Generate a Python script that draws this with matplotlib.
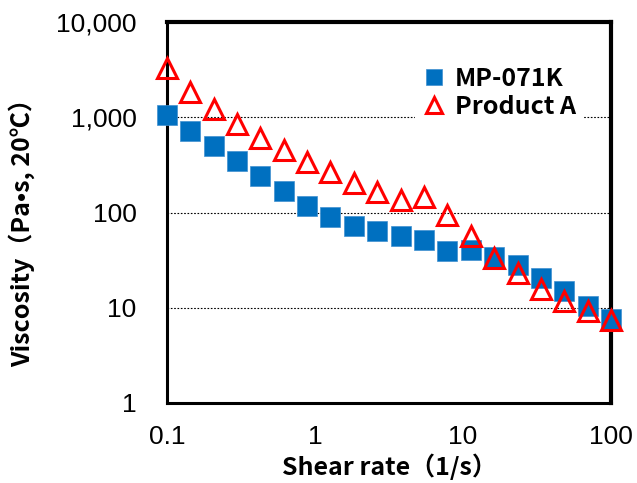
import matplotlib
matplotlib.use("Agg")
from matplotlib import pyplot as plt

# shear rate (1/s), 20 points per run
shear_rate = [0.1, 0.144, 0.207, 0.298, 0.428, 0.616, 0.886, 1.27, 1.83, 2.64,
              3.79, 5.46, 7.85, 11.3, 16.2, 23.4, 33.6, 48.3, 69.5, 100]

mp071k = [1065, 724, 500, 346, 241, 169, 117, 88.7, 72, 63.8,
          57, 51.4, 39, 40, 34.1, 28.3, 20.5, 14.9, 10.5, 7.6]
product_a = [3290, 1850, 1230, 855, 607, 449, 336, 264, 206, 165,
             136, 144, 94.6, 56.7, 33, 22.9, 15.6, 11.8, 9.3, 7.4]

y_ticks = [1, 10, 100, 1000, 10000]
y_labels = ["1", "10", "100", "1,000", "10,000"]
x_ticks = [0.1, 1, 10, 100]
x_labels = ["0.1", "1", "10", "100"]

jp_font = ["Noto Sans CJK JP", "DejaVu Sans"]

fig = plt.figure(figsize=(6.37, 4.83), dpi=100)
ax = fig.add_axes([167/637, 80/483, 444/637, 381/483])

ax.set_xscale("log")
ax.set_yscale("log")
ax.set_xlim(0.1, 100)
ax.set_ylim(1, 10000)

for yv in y_ticks[1:-1]:
    ax.axhline(yv, color="black", lw=0.8, ls=(0, (1.5, 1.5)), zorder=1)

ax.plot(shear_rate, mp071k, ls="none", marker="s", ms=14.5, color="#0070C0",
        mec="#3f8fd0", mew=0.5, label="MP-071K", clip_on=False, zorder=3)
ax.plot(shear_rate, product_a, ls="none", marker="^", ms=14, mfc="none",
        mec="#ff0000", mew=2.2, label="Product A", clip_on=False, zorder=4)

ax.set_yticks(y_ticks)
ax.set_yticklabels(y_labels, family="Liberation Sans", fontsize=19)
ax.set_xticks(x_ticks)
ax.set_xticklabels(x_labels, family="Liberation Sans", fontsize=19)
ax.minorticks_off()
ax.tick_params(axis="y", length=0, pad=22)
ax.tick_params(axis="x", length=0, pad=16)

for s in ax.spines.values():
    s.set_linewidth(2.2)
    s.set_color("black")
ax.spines["top"].set_linewidth(3)
ax.spines["right"].set_linewidth(3)

ax.set_xlabel("Shear rate（1/s）", family=jp_font, fontweight="bold",
              fontsize=18, va="center")
ax.xaxis.set_label_coords(0.5, -0.168)
ax.set_ylabel("Viscosity（Pa•s, 20℃）", family=jp_font, fontweight="bold",
              fontsize=18, va="center")
ax.yaxis.set_label_coords(-0.327, 0.462)

leg = ax.legend(loc="upper left", bbox_to_anchor=(0.53, 0.935), frameon=True,
                prop={"family": jp_font, "weight": "bold", "size": 18},
                handlelength=0.9, handletextpad=0.4, borderpad=0.3,
                labelspacing=0.15, markerscale=0.8)
leg.get_frame().set_edgecolor("none")
leg.get_frame().set_facecolor("white")
leg.get_frame().set_alpha(1)
leg.set_zorder(5)

plt.savefig("out.png", dpi=100)
